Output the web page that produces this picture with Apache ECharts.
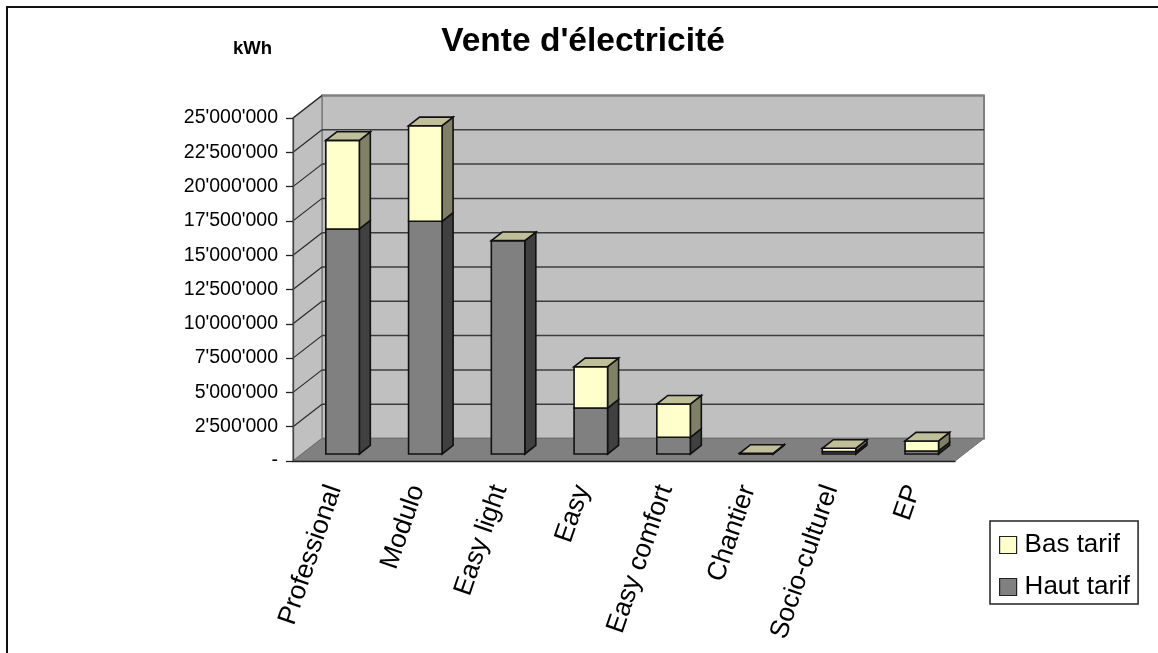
<!DOCTYPE html>
<html>
<head>
<meta charset="utf-8">
<style>html,body{margin:0;padding:0;background:#fff}#c{width:1158px;height:653px}</style>
<script src="https://cdn.jsdelivr.net/npm/echarts@6/dist/echarts.min.js"></script>
</head>
<body>
<div id="c"></div>
<script>
const categories = ['Professional','Modulo','Easy light','Easy','Easy comfort','Chantier','Socio-culturel','EP'];
const hautTarif = [16400000,16960000,15550000,3350000,1220000,30000,170000,220000];
const basTarif = [6460000,6970000,0,3010000,2420000,20000,245000,730000];
const valueTicks = [0,2500000,5000000,7500000,10000000,12500000,15000000,17500000,20000000,22500000,25000000];

const FONT = '"Liberation Sans", Arial, sans-serif';
const WALL_DX = 29, WALL_DY = -22.5;   // depth of the plot box
const BAR_OFF_X = 8.2, BAR_OFF_Y = -7; // bars stand this far behind the front plane
const BAR_DX = 11, BAR_DY = -8.6;      // depth of one bar
const BAR_W = 33.5;
const EDGE = '#111';

function poly(points, fill, stroke, lw) {
  return {type:'polygon', shape:{points}, style:{fill, stroke, lineWidth:lw === undefined ? 1.6 : lw}};
}
function line(x1,y1,x2,y2,stroke,lw) {
  return {type:'line', shape:{x1,y1,x2,y2}, style:{stroke, lineWidth:lw, fill:null}};
}

function renderWalls(params, api) {
  const cs = params.coordSys;
  const l = cs.x, r = cs.x + cs.width, t = cs.y, b = cs.y + cs.height;
  const d = WALL_DX, e = WALL_DY;
  return {type:'group', children:[
    poly([[l+d,t+e],[r+d,t+e],[r+d,b+e],[l+d,b+e]], '#c0c0c0', '#808080', 2),
    poly([[l,t],[l+d,t+e],[l+d,b+e],[l,b]], '#c0c0c0', '#808080', 1.5),
    poly([[l,b],[l+d,b+e],[r+d,b+e],[r,b]], '#808080', '#707070', 1)
  ]};
}
function renderGrid(params, api) {
  const cs = params.coordSys;
  const v = api.value(0);
  const y = api.coord([0, v])[1];
  if (v === 0) return {type:'group', children:[]};
  const l = cs.x, r = cs.x + cs.width;
  return {type:'group', children:[
    line(l, y, l+WALL_DX, y+WALL_DY, '#2a2a2a', 1.2),
    line(l+WALL_DX, y+WALL_DY, r+WALL_DX, y+WALL_DY, v === 25000000 ? '#808080' : '#3c3c3c', v === 25000000 ? 2 : 1.5)
  ]};
}
function renderSegment(front, side, withTop) {
  return function (params, api) {
    const c = api.value(0), lo = api.value(1), hi = api.value(2);
    const pLo = api.coord([c, lo]), pHi = api.coord([c, hi]);
    const xl = pLo[0] + BAR_OFF_X - BAR_W/2, xr = xl + BAR_W;
    const yb = pLo[1] + BAR_OFF_Y, yt = pHi[1] + BAR_OFF_Y;
    const kids = [];
    if (hi > lo) {
      kids.push(poly([[xr,yb],[xr+BAR_DX,yb+BAR_DY],[xr+BAR_DX,yt+BAR_DY],[xr,yt]], side, EDGE));
      kids.push(poly([[xl,yb],[xr,yb],[xr,yt],[xl,yt]], front, EDGE));
    }
    if (withTop) {
      kids.push(poly([[xl,yt],[xr,yt],[xr+BAR_DX,yt+BAR_DY],[xl+BAR_DX,yt+BAR_DY]], '#bfbf99', EDGE));
    }
    return {type:'group', children:kids};
  };
}

const chart = echarts.init(document.getElementById('c'), null, {renderer:'canvas'});
chart.setOption({
  animation:false,
  backgroundColor:'#fff',
  textStyle:{fontFamily:FONT},
  title:[
    {text:"Vente d'électricité", left:583, top:25, padding:0, textAlign:'center',
     textStyle:{fontFamily:FONT, fontSize:33.5, fontWeight:'bold', color:'#000'}},
    {text:'kWh', left:233, top:39, padding:0,
     textStyle:{fontFamily:FONT, fontSize:18.5, fontWeight:'bold', color:'#000'}}
  ],
  legend:{
    orient:'vertical', left:990, top:521, padding:[11,8,4,9],
    backgroundColor:'#fff', borderColor:'#222', borderWidth:1.5,
    itemWidth:17, itemHeight:17, itemGap:16, icon:'rect',
    textStyle:{fontFamily:FONT, fontSize:26, color:'#000', padding:[0,0,0,3]},
    data:[
      {name:'Bas tarif', itemStyle:{color:'#ffffcc', borderColor:'#222', borderWidth:1.2}},
      {name:'Haut tarif', itemStyle:{color:'#808080', borderColor:'#222', borderWidth:1.2}}
    ]
  },
  grid:{left:293, right:203, top:118, bottom:192, containLabel:false},
  xAxis:{
    type:'category', data:categories,
    axisLine:{lineStyle:{color:'#222', width:1.3}},
    axisTick:{length:7, lineStyle:{color:'#222', width:1.3}},
    axisLabel:{rotate:71, margin:25, interval:0, color:'#000', fontFamily:FONT, fontSize:26.5},
    z:5
  },
  yAxis:{
    type:'value', min:0, max:25000000, interval:2500000,
    splitLine:{show:false},
    axisLine:{show:true, lineStyle:{color:'#444', width:1.3}},
    axisTick:{show:true, length:7, lineStyle:{color:'#222', width:1.3}},
    axisLabel:{
      margin:15, color:'#000', fontFamily:FONT, fontSize:19.5,
      formatter:v => v === 0 ? '-' : String(v).replace(/\B(?=(\d{3})+$)/g, "'")
    },
    z:5
  },
  graphic:[{
    type:'rect', silent:true, z:-1,
    shape:{x:7, y:7, width:1300, height:800},
    style:{fill:'none', stroke:'#111', lineWidth:2}
  }],
  series:[
    {name:'parois', type:'custom', data:[[0]], renderItem:renderWalls, z:1, silent:true, clip:false},
    {name:'grille', type:'custom', data:valueTicks.map(v => [v]), encode:{y:0},
     renderItem:renderGrid, z:1.5, silent:true, clip:false},
    {name:'Haut tarif', type:'custom', renderItem:renderSegment('#808080','#404040',false), z:3, clip:false,
     itemStyle:{color:'#808080'}, encode:{x:0, y:[1,2]},
     data:categories.map((_, i) => [i, 0, hautTarif[i]])},
    {name:'Bas tarif', type:'custom', renderItem:renderSegment('#ffffcc','#808066',true), z:3, clip:false,
     itemStyle:{color:'#ffffcc'}, encode:{x:0, y:[1,2]},
     data:categories.map((_, i) => [i, hautTarif[i], hautTarif[i] + basTarif[i]])}
  ]
});
</script>
</body>
</html>
